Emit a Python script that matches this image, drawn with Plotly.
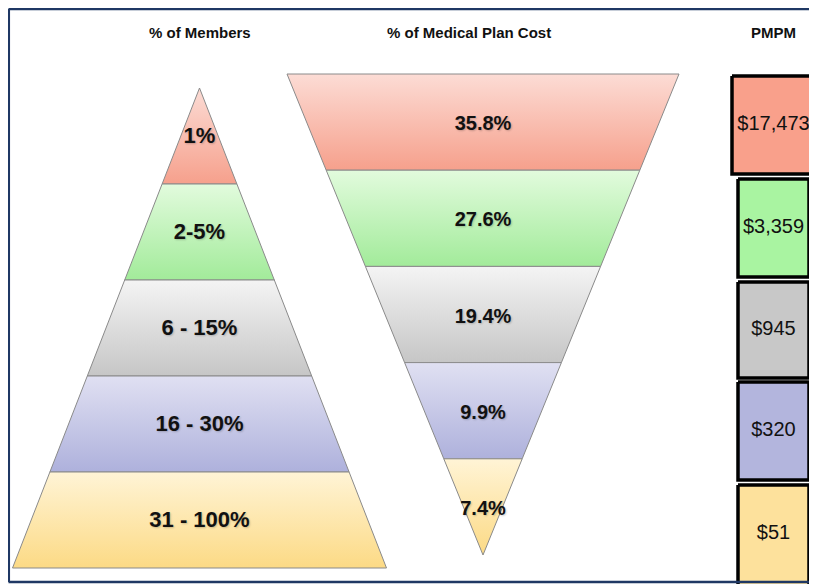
import plotly.graph_objects as go

# ---------------- data ----------------
member_groups = ["1%", "2-5%", "6 - 15%", "16 - 30%", "31 - 100%"]
cost_share = [35.8, 27.6, 19.4, 9.9, 7.4]
pmpm = [17473, 3359, 945, 320, 51]
panel_titles = ["% of Members", "% of Medical Plan Cost", "PMPM"]

# ---------------- styles ----------------
W, H = 817, 584
OFF = 8  # page body margin compensation
light = ["#fcdcd5", "#e2fbdd", "#f4f4f4", "#e0e0f2", "#fff4d6"]
dark = ["#f6a08c", "#a2eb9a", "#c6c6c6", "#aeb1dc", "#fcda85"]
box_fill = ["#f9a08b", "#a9f4a1", "#c8c8c8", "#b3b5dd", "#fde19c"]
FONT = "Liberation Sans, Arial, sans-serif"


def Y(py):
    return H - py


fig = go.Figure()
n = len(member_groups)

# ---- pyramid (% of members) ----
p_cx, p_apex, p_base, p_half = 199.5, 88, 568, 187
p_step = (p_base - p_apex) / n


def p_hw(y):
    return p_half * (y - p_apex) / (p_base - p_apex)


for i, lab in enumerate(member_groups):
    yt = p_apex + i * p_step
    yb = yt + p_step
    xs = [p_cx - p_hw(yt), p_cx + p_hw(yt), p_cx + p_hw(yb), p_cx - p_hw(yb), p_cx - p_hw(yt)]
    ys = [Y(yt), Y(yt), Y(yb), Y(yb), Y(yt)]
    fig.add_trace(go.Scatter(
        x=xs, y=ys, mode="lines", fill="toself",
        fillgradient=dict(type="vertical", colorscale=[[0, dark[i]], [1, light[i]]]),
        line=dict(color="#8a8a8a", width=1), hoverinfo="skip"))
    fig.add_trace(go.Scatter(
        x=[p_cx], y=[Y((yt + yb) / 2 + 1)], mode="text", text=[lab],
        textfont=dict(family=FONT, size=22, color="#111111", weight="bold",
                      shadow="1px 1px 2px rgba(0,0,0,0.2)"),
        hoverinfo="skip"))

# ---- inverted triangle (% of cost) ----
c_cx, c_top, c_apex, c_half = 483, 74, 555, 196
c_step = (c_apex - c_top) / n


def c_hw(y):
    return c_half * (c_apex - y) / (c_apex - c_top)


for i, v in enumerate(cost_share):
    yt = c_top + i * c_step
    yb = yt + c_step
    xs = [c_cx - c_hw(yt), c_cx + c_hw(yt), c_cx + c_hw(yb), c_cx - c_hw(yb), c_cx - c_hw(yt)]
    ys = [Y(yt), Y(yt), Y(yb), Y(yb), Y(yt)]
    fig.add_trace(go.Scatter(
        x=xs, y=ys, mode="lines", fill="toself",
        fillgradient=dict(type="vertical", colorscale=[[0, dark[i]], [1, light[i]]]),
        line=dict(color="#8a8a8a", width=1), hoverinfo="skip"))
    fig.add_trace(go.Scatter(
        x=[c_cx], y=[Y((yt + yb) / 2 + 3)], mode="text", text=[f"{v:.1f}%"],
        textfont=dict(family=FONT, size=20, color="#111111", weight="bold",
                      shadow="1px 1px 2px rgba(0,0,0,0.2)"),
        hoverinfo="skip"))

# ---- PMPM boxes ----
box_x = [(732, 815), (738, 809), (738, 809), (738, 809), (738, 809)]
box_y = [(76, 174), (179, 277), (282, 378), (382, 480), (485, 590)]
for i, v in enumerate(pmpm):
    x0, x1 = box_x[i]
    y0, y1 = box_y[i]
    fig.add_trace(go.Scatter(
        x=[x0, x1, x1, x0, x0], y=[Y(y0), Y(y0), Y(y1), Y(y1), Y(y0)],
        mode="lines", fill="toself", fillcolor=box_fill[i],
        line=dict(color="#000000", width=3.5), hoverinfo="skip"))
    fig.add_trace(go.Scatter(
        x=[(x0 + x1) / 2], y=[Y((y0 + min(y1, 582)) / 2)], mode="text", text=[f"${v:,}"],
        textfont=dict(family=FONT, size=20, color="#111111"),
        hoverinfo="skip"))

# ---- titles ----
title_x = [200, 469, 773]
for t, tx in zip(panel_titles, title_x):
    fig.add_annotation(x=tx, y=Y(32), text=f"<b>{t}</b>", showarrow=False,
                       font=dict(family=FONT, size=15, color="#111111"),
                       xanchor="center", yanchor="middle")

# ---- frame ----
frame = "#1f3864"
fig.add_shape(type="line", x0=8.5, x1=W + 10, y0=Y(9), y1=Y(9), line=dict(color=frame, width=2.5))
fig.add_shape(type="line", x0=8.8, x1=8.8, y0=Y(9), y1=Y(582), line=dict(color=frame, width=2.5))
fig.add_shape(type="line", x0=8.5, x1=W + 10, y0=Y(582), y1=Y(582), line=dict(color=frame, width=2.5))

fig.update_layout(
    width=W, height=H, margin=dict(l=0, r=0, t=0, b=0),
    paper_bgcolor="white", plot_bgcolor="white", showlegend=False,
    xaxis=dict(range=[OFF, W + OFF], visible=False, fixedrange=True),
    yaxis=dict(range=[-OFF, H - OFF], visible=False, fixedrange=True),
)

fig.write_html("out.html")
